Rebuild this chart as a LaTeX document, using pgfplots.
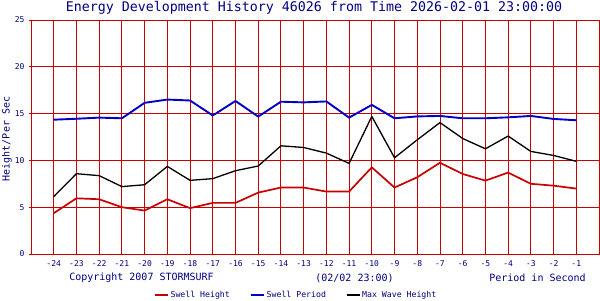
\documentclass[border=0pt]{standalone}
\usepackage{fontspec}
\setmainfont{DejaVu Sans Mono}
\usepackage{pgfplots}
\pgfplotsset{compat=1.18}
\definecolor{navy}{RGB}{0,0,128}
\definecolor{gridred}{RGB}{200,0,0}
\definecolor{sred}{RGB}{200,0,0}
\definecolor{sblue}{RGB}{0,0,200}
\begin{document}
\begin{tikzpicture}[x=1bp,y=1bp]
\begin{axis}[
  at={(0,0)}, anchor=south west,
  scale only axis, width=568bp, height=234bp,
  xmin=-25, xmax=0, ymin=0, ymax=25,
  xtick={-24,-23,...,-1},
  xticklabels={-24,-23,-22,-21,-20,-19,-18,-17,-16,-15,-14,-13,-12,-11,-10,-9,-8,-7,-6,-5,-4,-3,-2,-1},
  ytick={0,5,10,15,20,25},
  yticklabels={0,5,10,15,20,25},
  grid=major,
  major grid style={gridred, line width=0.9bp},
  axis line style={gridred, line width=0.9bp},
  tick style={gridred, line width=0.9bp},
  tick align=outside, major tick length=2bp,
  xtick style={draw=none},
  ticklabel style={font=\fontsize{8bp}{9bp}\selectfont, text=navy},
  xticklabel style={yshift=-1bp},
  yticklabel style={xshift=-1bp},
  legend columns=3,
  legend style={draw=none, fill=none, font=\fontsize{8.2bp}{9bp}\selectfont, text=navy,
    at={(0.216,-0.175)}, anchor=west, inner sep=0pt,
    /tikz/every even column/.append style={column sep=18bp}},
  legend image code/.code={\draw[#1] (0bp,0bp) -- (13bp,0bp);},
]
\addplot[sred, line width=1.7bp] coordinates {
(-24,4.36) (-23,5.95) (-22,5.85) (-21,5.0) (-20,4.64) (-19,5.85) (-18,4.9) (-17,5.46)
(-16,5.46) (-15,6.56) (-14,7.1) (-13,7.1) (-12,6.67) (-11,6.67) (-10,9.26) (-9,7.1)
(-8,8.2) (-7,9.75) (-6,8.55) (-5,7.84) (-4,8.7) (-3,7.5) (-2,7.3) (-1,6.99)};
\addlegendentry{Swell Height}
\addplot[sblue, line width=1.9bp] coordinates {
(-24,14.35) (-23,14.45) (-22,14.57) (-21,14.5) (-20,16.15) (-19,16.5) (-18,16.4) (-17,14.8)
(-16,16.35) (-15,14.68) (-14,16.27) (-13,16.2) (-12,16.3) (-11,14.57) (-10,15.93) (-9,14.5)
(-8,14.7) (-7,14.75) (-6,14.5) (-5,14.5) (-4,14.6) (-3,14.75) (-2,14.43) (-1,14.29)};
\addlegendentry{Swell Period}
\addplot[black, line width=1.3bp] coordinates {
(-24,6.13) (-23,8.58) (-22,8.37) (-21,7.2) (-20,7.4) (-19,9.36) (-18,7.87) (-17,8.05)
(-16,8.9) (-15,9.4) (-14,11.56) (-13,11.38) (-12,10.78) (-11,9.68) (-10,14.7) (-9,10.28)
(-8,12.2) (-7,14.04) (-6,12.34) (-5,11.24) (-4,12.6) (-3,10.96) (-2,10.53) (-1,9.9)};
\addlegendentry{Max Wave Height}
\end{axis}
\node[text=navy, font=\fontsize{13.3bp}{15bp}\selectfont] at (283,246) {Energy Development History 46026 from Time 2026-02-01 23:00:00};
\node[text=navy, font=\fontsize{10bp}{12bp}\selectfont, rotate=90] at (-24,115) {Height/Per Sec};
\node[text=navy, font=\fontsize{10bp}{12bp}\selectfont] at (110.5,-24) {Copyright 2007 STORMSURF};
\node[text=navy, font=\fontsize{10bp}{12bp}\selectfont] at (323.5,-24) {(02/02 23:00)};
\node[text=navy, font=\fontsize{10bp}{12bp}\selectfont] at (506.5,-24) {Period in Second};
\pgfresetboundingbox
\path[use as bounding box] (-31,-46) rectangle (569,254);
\end{tikzpicture}
\end{document}
